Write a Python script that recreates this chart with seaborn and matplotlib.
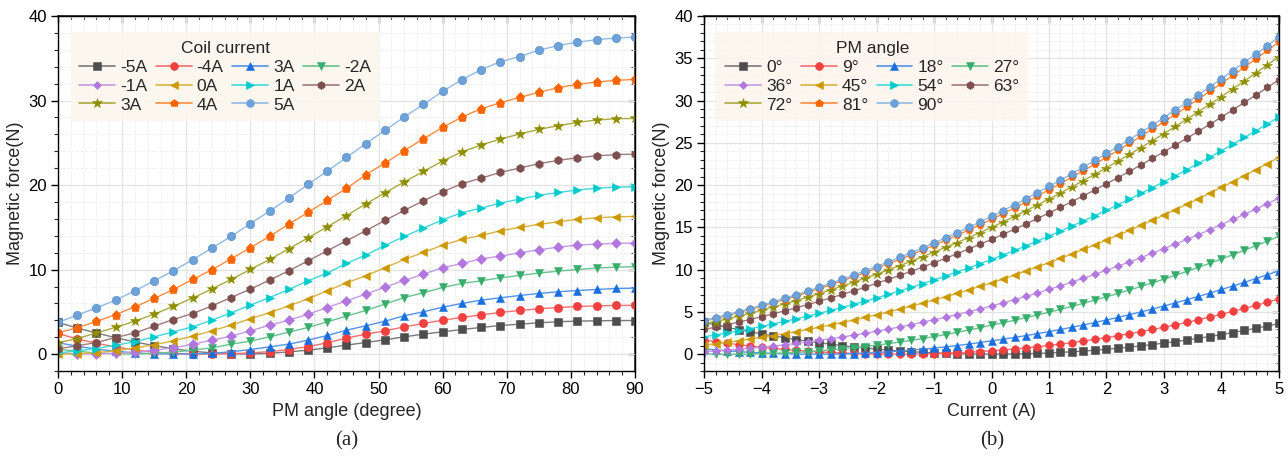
import numpy as np
import pandas as pd
import matplotlib
matplotlib.use("Agg")
import matplotlib.pyplot as plt
import matplotlib.colors as mcolors
from matplotlib.lines import Line2D
from matplotlib.ticker import MultipleLocator
import seaborn as sns

# ---- data (a): force vs PM angle, one series per coil current ----
pm_angle = list(range(0, 91, 3))
coil_keys = ["-5A", "-4A", "-3A", "-2A", "-1A", "0A", "1A", "2A", "3A", "4A", "5A"]
coil_labels = ["-5A", "-4A", "3A", "-2A", "-1A", "0A", "1A", "2A", "3A", "4A", "5A"]

f_m5 = [3.75, 3.10, 2.50, 1.95, 1.45, 1.00, 0.65, 0.35, 0.15, 0.04, 0.02, 0.10, 0.28, 0.47, 0.75, 1.07,
        1.38, 1.70, 2.05, 2.37, 2.64, 2.92, 3.16, 3.39, 3.55, 3.71, 3.83, 3.91, 3.94, 3.98, 3.98]
f_m4 = [2.45, 1.80, 1.30, 0.85, 0.50, 0.25, 0.10, 0.02, 0.02, 0.06, 0.15, 0.30, 0.55, 0.90, 1.35, 1.90,
        2.37, 2.76, 3.23, 3.63, 4.02, 4.34, 4.65, 4.93, 5.17, 5.36, 5.52, 5.64, 5.72, 5.76, 5.78]
f_m3 = [1.35, 0.95, 0.60, 0.35, 0.15, 0.05, 0.01, 0.02, 0.10, 0.28, 0.55, 0.87, 1.18, 1.66, 2.21, 2.84,
        3.35, 3.90, 4.54, 5.01, 5.56, 6.00, 6.39, 6.67, 6.94, 7.18, 7.38, 7.53, 7.65, 7.77, 7.81]
f_m2 = [0.60, 0.35, 0.15, 0.05, 0.02, 0.10, 0.25, 0.47, 0.75, 1.18, 1.54, 2.05, 2.60, 3.16, 3.83, 4.50,
        5.17, 5.92, 6.70, 7.26, 7.89, 8.36, 8.68, 9.03, 9.31, 9.59, 9.82, 10.02, 10.18, 10.30, 10.34]
f_m1 = [0.15, 0.05, 0.02, 0.10, 0.28, 0.47, 0.75, 1.18, 1.66, 2.13, 2.76, 3.43, 4.02, 4.73, 5.52, 6.31,
        7.10, 7.93, 8.72, 9.47, 10.22, 10.73, 11.28, 11.60, 11.99, 12.35, 12.66, 12.90, 13.02, 13.10, 13.14]
f_0 = [0.00, 0.04, 0.18, 0.40, 0.75, 1.10, 1.58, 2.13, 2.76, 3.43, 4.18, 4.92, 5.70, 6.55, 7.50, 8.44,
       9.27, 10.22, 11.20, 12.03, 12.90, 13.57, 14.04, 14.60, 14.99, 15.35, 15.66, 15.94, 16.13, 16.25, 16.29]
f_1 = [0.15, 0.40, 0.67, 1.07, 1.46, 2.05, 2.64, 3.23, 4.02, 4.89, 5.80, 6.70, 7.65, 8.68, 9.59, 10.73,
       11.72, 12.86, 13.93, 14.91, 15.90, 16.73, 17.28, 17.87, 18.34, 18.78, 19.13, 19.41, 19.64, 19.76, 19.80]
f_2 = [0.65, 0.99, 1.38, 1.97, 2.52, 3.31, 4.10, 4.81, 5.70, 6.70, 7.69, 8.76, 9.86, 11.04, 12.23, 13.41,
       14.60, 15.82, 17.00, 18.15, 19.21, 20.16, 20.83, 21.50, 22.01, 22.53, 22.92, 23.23, 23.47, 23.59, 23.67]
f_3 = [1.35, 1.85, 2.50, 3.18, 3.90, 4.73, 5.66, 6.64, 7.71, 8.84, 10.02, 11.20, 12.46, 13.76, 15.06, 16.40,
       17.75, 19.09, 20.36, 21.62, 22.84, 23.94, 24.73, 25.44, 26.04, 26.59, 27.02, 27.42, 27.69, 27.85, 27.88]
f_4 = [2.52, 3.12, 3.87, 4.69, 5.60, 6.59, 7.65, 8.84, 9.98, 11.28, 12.58, 13.93, 15.38, 16.77, 18.19, 19.60,
       21.22, 22.60, 24.06, 25.48, 26.82, 28.05, 29.03, 29.74, 30.37, 30.97, 31.52, 31.91, 32.19, 32.39, 32.50]
f_5 = [3.75, 4.62, 5.48, 6.39, 7.50, 8.68, 9.86, 11.17, 12.54, 13.93, 15.43, 16.92, 18.46, 20.08, 21.66, 23.27,
       24.90, 26.47, 28.05, 29.55, 31.08, 32.47, 33.65, 34.60, 35.20, 35.95, 36.50, 36.90, 37.20, 37.40, 37.50]
coil_series = [f_m5, f_m4, f_m3, f_m2, f_m1, f_0, f_1, f_2, f_3, f_4, f_5]

# ---- data (b): force vs current, one series per PM angle ----
current = [round(-5 + 0.2 * i, 1) for i in range(51)]
angle_keys = ["0°", "9°", "18°", "27°", "36°", "45°", "54°", "63°", "72°", "81°", "90°"]

g_0 = [3.75, 3.46, 3.17, 2.90, 2.65, 2.40, 2.17, 1.94, 1.73, 1.54, 1.35, 1.18, 1.01, 0.86, 0.73, 0.60, 0.49,
       0.38, 0.29, 0.22, 0.15, 0.10, 0.05, 0.02, 0.01, 0.00, 0.01, 0.02, 0.05, 0.09, 0.15, 0.21, 0.28, 0.37,
       0.47, 0.58, 0.70, 0.84, 0.98, 1.14, 1.31, 1.49, 1.68, 1.88, 2.09, 2.32, 2.56, 2.81, 3.07, 3.34, 3.63]
g_9 = [1.67, 1.48, 1.30, 1.13, 0.97, 0.82, 0.69, 0.57, 0.46, 0.36, 0.27, 0.20, 0.14, 0.09, 0.05, 0.02, 0.00,
       0.00, 0.01, 0.03, 0.06, 0.11, 0.16, 0.23, 0.31, 0.40, 0.50, 0.62, 0.75, 0.88, 1.03, 1.20, 1.37, 1.56,
       1.76, 1.97, 2.19, 2.42, 2.67, 2.92, 3.19, 3.47, 3.77, 4.07, 4.39, 4.72, 5.06, 5.41, 5.77, 6.15, 6.54]
g_18 = [0.63, 0.51, 0.40, 0.30, 0.22, 0.15, 0.09, 0.05, 0.02, 0.00, 0.00, 0.01, 0.04, 0.07, 0.13, 0.19, 0.27,
        0.36, 0.47, 0.59, 0.72, 0.86, 1.02, 1.19, 1.38, 1.58, 1.77, 1.98, 2.20, 2.43, 2.67, 2.92, 3.19, 3.46,
        3.75, 4.04, 4.35, 4.67, 5.00, 5.35, 5.70, 6.07, 6.45, 6.83, 7.24, 7.65, 8.07, 8.50, 8.95, 9.40, 9.87]
g_27 = [0.04, 0.01, 0.00, 0.00, 0.02, 0.05, 0.09, 0.14, 0.21, 0.29, 0.39, 0.50, 0.62, 0.75, 0.90, 1.07, 1.24,
        1.43, 1.63, 1.85, 2.08, 2.32, 2.58, 2.85, 3.13, 3.43, 3.71, 4.01, 4.32, 4.64, 4.96, 5.30, 5.66, 6.02,
        6.40, 6.78, 7.18, 7.59, 8.01, 8.44, 8.88, 9.33, 9.80, 10.28, 10.76, 11.26, 11.77, 12.29, 12.83, 13.37, 13.93]
g_36 = [0.29, 0.37, 0.47, 0.58, 0.69, 0.82, 0.96, 1.11, 1.27, 1.45, 1.63, 1.83, 2.03, 2.25, 2.47, 2.71, 2.96,
        3.22, 3.49, 3.78, 4.07, 4.37, 4.69, 5.01, 5.35, 5.70, 6.07, 6.45, 6.84, 7.25, 7.67, 8.09, 8.54, 8.99,
        9.45, 9.93, 10.41, 10.91, 11.43, 11.95, 12.48, 13.03, 13.58, 14.15, 14.73, 15.33, 15.93, 16.55, 17.17, 17.81, 18.46]
g_45 = [1.07, 1.23, 1.40, 1.59, 1.78, 1.99, 2.20, 2.43, 2.67, 2.92, 3.18, 3.45, 3.74, 4.03, 4.34, 4.65, 4.98,
        5.32, 5.67, 6.03, 6.41, 6.79, 7.19, 7.59, 8.01, 8.44, 8.89, 9.35, 9.83, 10.32, 10.82, 11.33, 11.85, 12.39,
        12.93, 13.49, 14.06, 14.64, 15.24, 15.84, 16.46, 17.09, 17.73, 18.38, 19.05, 19.72, 20.41, 21.11, 21.82, 22.55, 23.28]
g_54 = [2.05, 2.28, 2.51, 2.76, 3.02, 3.29, 3.58, 3.87, 4.18, 4.50, 4.83, 5.17, 5.53, 5.89, 6.27, 6.66, 7.06,
        7.48, 7.90, 8.34, 8.79, 9.25, 9.72, 10.20, 10.70, 11.20, 11.73, 12.27, 12.82, 13.39, 13.97, 14.55, 15.16, 15.77,
        16.39, 17.03, 17.68, 18.34, 19.02, 19.70, 20.40, 21.11, 21.84, 22.57, 23.32, 24.08, 24.85, 25.63, 26.43, 27.24, 28.06]
g_63 = [2.92, 3.20, 3.49, 3.79, 4.10, 4.43, 4.77, 5.12, 5.48, 5.86, 6.25, 6.65, 7.06, 7.49, 7.92, 8.38, 8.84,
        9.31, 9.80, 10.30, 10.82, 11.34, 11.88, 12.43, 13.00, 13.57, 14.17, 14.79, 15.41, 16.05, 16.70, 17.37, 18.05, 18.74,
        19.44, 20.16, 20.89, 21.63, 22.39, 23.16, 23.94, 24.74, 25.55, 26.36, 27.20, 28.05, 28.91, 29.78, 30.67, 31.56, 32.47]
g_72 = [3.54, 3.85, 4.17, 4.50, 4.84, 5.20, 5.57, 5.95, 6.34, 6.75, 7.17, 7.60, 8.05, 8.51, 8.98, 9.46, 9.96,
        10.47, 10.99, 11.52, 12.07, 12.63, 13.20, 13.78, 14.38, 14.99, 15.64, 16.30, 16.97, 17.65, 18.35, 19.06, 19.79, 20.53,
        21.29, 22.05, 22.83, 23.63, 24.43, 25.26, 26.09, 26.94, 27.80, 28.68, 29.57, 30.47, 31.38, 32.32, 33.26, 34.22, 35.19]
g_81 = [3.91, 4.23, 4.57, 4.92, 5.29, 5.66, 6.06, 6.46, 6.87, 7.30, 7.75, 8.20, 8.67, 9.15, 9.64, 10.15, 10.67,
        11.20, 11.75, 12.31, 12.88, 13.47, 14.06, 14.68, 15.30, 15.94, 16.61, 17.30, 17.99, 18.71, 19.44, 20.18, 20.94, 21.71,
        22.49, 23.29, 24.10, 24.93, 25.77, 26.63, 27.49, 28.37, 29.27, 30.17, 31.10, 32.04, 32.98, 33.95, 34.93, 35.93, 36.93]
g_90 = [3.98, 4.32, 4.66, 5.02, 5.39, 5.78, 6.18, 6.59, 7.02, 7.45, 7.91, 8.38, 8.85, 9.35, 9.85, 10.37, 10.90,
        11.44, 12.01, 12.57, 13.16, 13.76, 14.37, 15.00, 15.63, 16.29, 16.97, 17.67, 18.38, 19.10, 19.84, 20.59, 21.35, 22.14,
        22.93, 23.74, 24.56, 25.39, 26.24, 27.10, 27.98, 28.88, 29.78, 30.70, 31.63, 32.58, 33.55, 34.52, 35.51, 36.51, 37.53]
angle_series = [g_0, g_9, g_18, g_27, g_36, g_45, g_54, g_63, g_72, g_81, g_90]

# ---- style ----
colors = ["#4d4d4d", "#f14040", "#1a6fdf", "#37ad6b", "#b177de", "#cc9900",
          "#00cbcc", "#7d4e4e", "#8e8e00", "#fb6501", "#6ca2d9"]
markers = ["s", "o", "^", "v", "D", "<", ">", "h", "*", "p", "o"]
msizes = [5.5, 6, 6, 6, 4.8, 6, 6, 6, 7.5, 6.5, 6]


def lighter(c, amt=0.3):
    r, g, b = mcolors.to_rgb(c)
    return (r + (1 - r) * amt, g + (1 - g) * amt, b + (1 - b) * amt)


sns.set_theme(style="white")
plt.rcParams["font.family"] = ["Liberation Sans", "DejaVu Sans"]
plt.rcParams["axes.unicode_minus"] = True

fig = plt.figure(figsize=(12.88, 4.57), dpi=100)
ax1 = fig.add_axes([0.045, 0.188, 0.448, 0.777])
ax2 = fig.add_axes([0.5466, 0.188, 0.4464, 0.777])


def long_frame(x, keys, series, xname):
    frames = []
    for k, v in zip(keys, series):
        frames.append(pd.DataFrame({xname: x, "force": v, "series": k}))
    return pd.concat(frames, ignore_index=True)


def draw_panel(ax, df, xname, keys, ms_scale):
    sns.lineplot(data=df, x=xname, y="force", hue="series", style="series",
                 hue_order=keys, style_order=keys,
                 palette=dict(zip(keys, colors)), markers=dict(zip(keys, markers)),
                 dashes=False, linewidth=1.0, legend=False, ax=ax, sort=False)
    for line, c, s in zip(ax.lines, colors, msizes):
        line.set_color(lighter(c, 0.25))
        line.set_markerfacecolor(c)
        line.set_markeredgecolor(c)
        line.set_markeredgewidth(0.4)
        line.set_markersize(s * ms_scale)
    # sphere look for the last (light blue) series
    ax.lines[-1].set_markeredgecolor("#4f86c0")


def style_axes(ax, xlim, xmaj, xmin, ymaj, ymin):
    ax.set_xlim(*xlim)
    ax.set_ylim(-2, 40)
    ax.xaxis.set_major_locator(MultipleLocator(xmaj))
    ax.xaxis.set_minor_locator(MultipleLocator(xmin))
    ax.yaxis.set_major_locator(MultipleLocator(ymaj))
    ax.yaxis.set_minor_locator(MultipleLocator(ymin))
    ax.grid(True, which="major", color="#e3e3e3", linewidth=0.9)
    ax.grid(True, which="minor", color="#eeeeee", linewidth=0.6, linestyle="--")
    ax.set_axisbelow(True)
    for sp in ax.spines.values():
        sp.set_color("black")
        sp.set_linewidth(1.0)
    ax.tick_params(which="major", direction="out", length=5, width=1, labelsize=12,
                   colors="black", bottom=True, left=True, pad=3)
    ax.tick_params(which="minor", direction="out", length=3, width=0.8, bottom=True, left=True)
    for loc in ("top", "right"):
        if loc == "top":
            sec = ax.secondary_xaxis("top")
            sec.xaxis.set_major_locator(MultipleLocator(xmaj))
            sec.xaxis.set_minor_locator(MultipleLocator(xmin))
        else:
            sec = ax.secondary_yaxis("right")
            sec.yaxis.set_major_locator(MultipleLocator(ymaj))
            sec.yaxis.set_minor_locator(MultipleLocator(ymin))
        sec.tick_params(which="major", direction="in", length=5, width=1, labelsize=0,
                        labeltop=False, labelright=False)
        sec.tick_params(which="minor", direction="in", length=3, width=0.8)
        for t in sec.get_xticklabels() + sec.get_yticklabels():
            t.set_visible(False)


def add_legend(ax, labels, title, face):
    handles = []
    for c, m, s in zip(colors, markers, msizes):
        handles.append(Line2D([0], [0], color=lighter(c, 0.25), lw=1.2, marker=m,
                              markersize=s * 0.95, markerfacecolor=c, markeredgecolor=c,
                              markeredgewidth=0.4))
    order = [0, 4, 8, 1, 5, 9, 2, 6, 10, 3, 7]
    leg = ax.legend([handles[i] for i in order], [labels[i] for i in order],
                    title=title, ncol=4, loc="upper left", bbox_to_anchor=(0.022, 0.955),
                    fontsize=12.5, title_fontsize=12.5, frameon=True, fancybox=False,
                    handlelength=2.05, handletextpad=0.3, columnspacing=0.5,
                    labelspacing=0.22, borderpad=0.5, numpoints=1, borderaxespad=0)
    frame = leg.get_frame()
    frame.set_facecolor(face)
    frame.set_edgecolor("none")
    frame.set_alpha(0.9)


# panel (a)
df_a = long_frame(pm_angle, coil_keys, coil_series, "angle")
draw_panel(ax1, df_a, "angle", coil_keys, 1.0)
style_axes(ax1, (0, 90), 10, 2, 10, 2)
ax1.set_xlabel("PM angle (degree)", fontsize=13, labelpad=4)
ax1.set_ylabel("Magnetic force(N)", fontsize=13, labelpad=3)
add_legend(ax1, coil_labels, "Coil current", "#fbf7ee")

# panel (b)
df_b = long_frame(current, angle_keys, angle_series, "current")
draw_panel(ax2, df_b, "current", angle_keys, 0.92)
style_axes(ax2, (-5, 5), 1, 0.2, 5, 1)
ax2.set_xlabel("Current (A)", fontsize=13, labelpad=4)
ax2.set_ylabel("Magnetic force(N)", fontsize=13, labelpad=3)
add_legend(ax2, angle_keys, "PM angle", "#fdf5ee")

fig.text(0.269, 0.036, "(a)", ha="center", va="center", fontsize=15, family="Liberation Serif")
fig.text(0.770, 0.036, "(b)", ha="center", va="center", fontsize=15, family="Liberation Serif")

fig.savefig("out.png", dpi=100)
